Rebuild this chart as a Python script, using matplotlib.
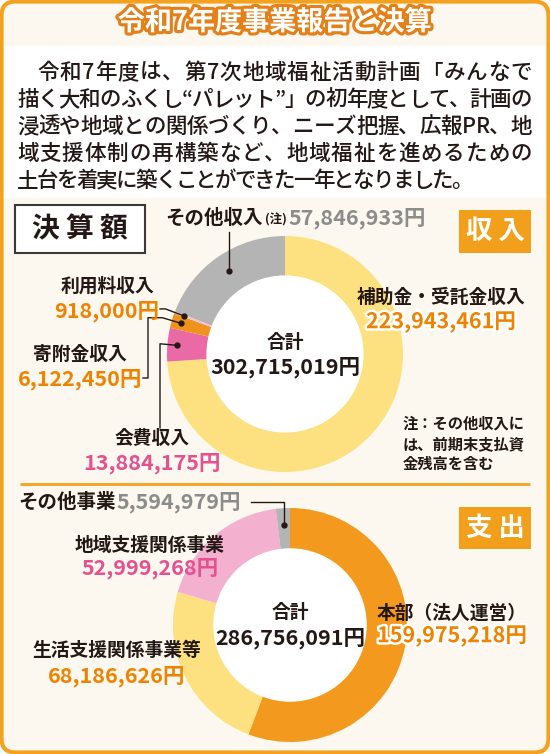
import numpy as np
import matplotlib.pyplot as plt
import matplotlib.patheffects as pe
from matplotlib.patches import FancyBboxPatch, Rectangle, Circle

plt.rcParams['font.family'] = ['Noto Sans CJK JP', 'DejaVu Sans']

W, H = 550, 754

# ---- data ----
title = '令和7年度事業報告と決算'
intro_lines = [
    '令和7年度は、第7次地域福祉活動計画「みんなで',
    '描く大和のふくし“パレット”」の初年度として、計画の',
    '浸透や地域との関係づくり、ニーズ把握、広報PR、地',
    '域支援体制の再構築など、地域福祉を進めるための',
    '土台を着実に築くことができた一年となりました。',
]

income_labels = ['補助金・受託金収入', '会費収入', '寄附金収入', '利用料収入', 'その他収入']
income_values = [223943461, 13884175, 6122450, 918000, 57846933]
income_total = 302715019

expense_labels = ['本部（法人運営）', '生活支援関係事業等', '地域支援関係事業', 'その他事業']
expense_values = [159975218, 68186626, 52999268, 5594979]
expense_total = 286756091

note_lines = ['注：その他収入に', 'は、前期末支払資', '金残高を含む']

# ---- styles ----
ORANGE = '#f4a11d'
DARK = '#231815'
VAL_ORANGE = '#ef8200'
VAL_PINK = '#e5508e'
VAL_GRAY = '#8c8c8c'
income_colors = ['#fde07f', '#e96aa4', '#f0921e', '#f6c3da', '#b4b4b4']
expense_colors = ['#f39a1e', '#fde07f', '#f4b0cf', '#b4b4b4']

fig = plt.figure(figsize=(W / 100, H / 100), dpi=100)
renderer = fig.canvas.get_renderer()

bg = fig.add_axes([0, 0, 1, 1], zorder=0)
ov = fig.add_axes([0, 0, 1, 1], zorder=2)
for a in (bg, ov):
    a.set_xlim(0, W)
    a.set_ylim(H, 0)
    a.axis('off')
ov.patch.set_alpha(0)

# frame + backgrounds
frame = FancyBboxPatch((1.5, 1.5), W - 3, H - 3, boxstyle='round,pad=0,rounding_size=14',
                       fc='#fcf8ef', ec='none')
bg.add_patch(frame)
bg.add_patch(Rectangle((0, 46), W, 152, fc='white', ec='none'))
xs = np.linspace(0, 1, 275)
bump = np.exp(-((xs - 0.5) / 0.3) ** 2)
c0 = np.array([240, 160, 72]) / 255
c1 = np.array([246, 194, 128]) / 255
grad = (c0[None, :] * (1 - bump[:, None]) + c1[None, :] * bump[:, None])[None, :, :]
im = bg.imshow(grad, extent=(0, W, 46, 0), aspect='auto', interpolation='bilinear')
im.set_clip_path(frame)
bg.set_xlim(0, W)
bg.set_ylim(H, 0)
bg.add_patch(FancyBboxPatch((1.5, 1.5), W - 3, H - 3, boxstyle='round,pad=0,rounding_size=14',
                            fc='none', ec=ORANGE, lw=3))
bg.plot([20, 530], [484, 484], color=ORANGE, lw=2, solid_capstyle='butt')

# title
ov.text(275, 22, title, ha='center', va='center', fontsize=19.5, fontweight='bold', color='white',
        path_effects=[pe.withStroke(linewidth=4.5, foreground='#e4801a')])


def justify(line, x0, x1, y, **kw):
    ts = [ov.text(0, y, ch, ha='left', va='center', **kw) for ch in line]
    ws = [t.get_window_extent(renderer).width for t in ts]
    gap = (x1 - x0 - sum(ws)) / (len(ts) - 1)
    x = x0
    for t, w in zip(ts, ws):
        t.set_x(x)
        x += w + gap


line_y = [73, 100, 127, 154, 181]
line_x0 = [37, 17, 17, 17, 17]
line_x1 = [532, 532, 532, 532, 473]
for s, y, x0, x1 in zip(intro_lines, line_y, line_x0, line_x1):
    justify(s, x0, x1, y, fontsize=15.5, fontweight='medium', color=DARK)

# label boxes
bg.add_patch(Rectangle((15, 205), 130, 48, fc='white', ec='#3a3a3a', lw=1.5))
ov.text(80, 229, '決 算 額', ha='center', va='center', fontsize=20, fontweight='bold', color=DARK)
for (y0, h), s in zip([(210, 43), (507, 42)], ['収入', '支出']):
    bg.add_patch(Rectangle((459, y0), 72, h, fc='#f2a01c', ec='none'))
    ov.text(495, y0 + h / 2, s[0] + ' ' + s[1], ha='center', va='center', fontsize=19,
            fontweight='bold', color='white')


def donut(cx, cy, R, values, colors, width):
    ax = fig.add_axes([(cx - R) / W, (H - cy - R) / H, 2 * R / W, 2 * R / H], zorder=1)
    wedges, _ = ax.pie(values, colors=colors, startangle=90, counterclock=False, radius=1,
                       wedgeprops=dict(width=width, linewidth=0))
    ax.add_patch(Circle((0, 0), 1 - width, color='white'))
    ax.set_xlim(-1, 1)
    ax.set_ylim(-1, 1)
    ax.set_aspect('equal')
    ax.axis('off')
    return [(w.theta1 + w.theta2) / 2 for w in wedges]


def pt(cx, cy, r, ang):
    a = np.radians(ang)
    return cx + r * np.cos(a), cy - r * np.sin(a)


def leader(xs, ys):
    ov.plot(xs, ys, color=DARK, lw=1)
    ov.plot(xs[-1], ys[-1], 'o', ms=3.5, color=DARK)


def label(x, y, name, value, vcolor, outline=False, dy=25):
    ov.text(x, y, name, ha='center', va='center', fontsize=13.5, fontweight='bold', color=DARK)
    eff = [pe.withStroke(linewidth=3.5, foreground='white')] if outline else None
    ov.text(x, y + dy, f'{value:,}円', ha='center', va='center', fontsize=15.5, fontweight='bold',
            color=vcolor, path_effects=eff)


# ---- income ----
icx, icy, iR = 285, 354, 118
mids = donut(icx, icy, iR, income_values, income_colors, 0.34)
ov.text(icx, icy - 12, '合計', ha='center', va='center', fontsize=13.5, fontweight='bold', color=DARK)
ov.text(icx, icy + 13, f'{income_total:,}円', ha='center', va='center', fontsize=15.5,
        fontweight='bold', color=DARK)

label(441, 297, income_labels[0], income_values[0], VAL_ORANGE, outline=True)
label(152, 438, income_labels[1], income_values[1], VAL_PINK)
label(80, 354, income_labels[2], income_values[2], VAL_ORANGE)
label(107, 286, income_labels[3], income_values[3], VAL_ORANGE)

t = ov.text(165, 218, income_labels[4], ha='left', va='center', fontsize=14, fontweight='bold', color=DARK)
x = t.get_window_extent(renderer).x1 + 2
t = ov.text(x, 220, '(注)', ha='left', va='center', fontsize=9, fontweight='bold', color=DARK)
x = t.get_window_extent(renderer).x1 + 2
ov.text(x, 218, f'{income_values[4]:,}円', ha='left', va='center', fontsize=15.5,
        fontweight='bold', color=VAL_GRAY)

# leaders (income)
gx, gy = pt(icx, icy, 100, mids[4])
leader([gx, gx], [232, gy])
ex, ey = pt(icx, icy, 108, mids[3])
ox, oy = pt(icx, icy, 128, mids[3])
leader([160, ox, ex], [309, oy, ey])
ex, ey = pt(icx, icy, 108, mids[2])
ox, oy = pt(icx, icy, 128, mids[2])
leader([143, 148, 148, ox, ex], [378, 378, oy, oy, ey])
ex, ey = pt(icx, icy, 108, mids[1])
ox, oy = pt(icx, icy, 128, mids[1])
leader([160, 160, ex], [428, oy, ey])

for i, s in enumerate(note_lines):
    ov.text(403, 424 + 20 * i, s, ha='left', va='center', fontsize=11, fontweight='bold', color=DARK)

# ---- expense ----
ecx, ecy, eR = 290, 625, 117
mids = donut(ecx, ecy, eR, expense_values, expense_colors, 0.35)
ov.text(ecx, ecy - 12, '合計', ha='center', va='center', fontsize=13.5, fontweight='bold', color=DARK)
ov.text(ecx, ecy + 13, f'{expense_total:,}円', ha='center', va='center', fontsize=15.5,
        fontweight='bold', color=DARK)

label(452, 613, expense_labels[0], expense_values[0], VAL_ORANGE, outline=True, dy=23)
label(117, 650, expense_labels[1], expense_values[1], VAL_ORANGE, dy=26)
label(150, 545, expense_labels[2], expense_values[2], VAL_PINK, dy=23)

t = ov.text(18, 502, expense_labels[3], ha='left', va='center', fontsize=14, fontweight='bold', color=DARK)
x = t.get_window_extent(renderer).x1 + 1
t = ov.text(x, 502, f'{expense_values[3]:,}円', ha='left', va='center', fontsize=15.5,
            fontweight='bold', color=VAL_GRAY)
x = t.get_window_extent(renderer).x1 + 10
gx, gy = pt(ecx, ecy, 100, mids[3])
leader([x, gx, gx], [502, 502, gy])

fig.savefig('out.png', dpi=100)
